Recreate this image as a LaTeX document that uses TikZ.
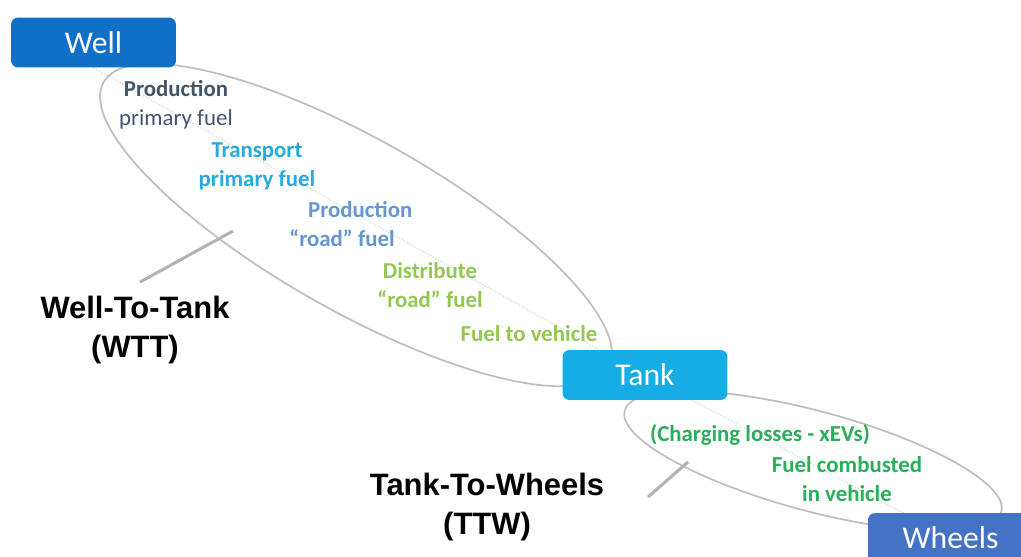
\documentclass[tikz,border=0pt]{standalone}
\usepackage{fontspec}
\setmainfont{Carlito}
\newfontfamily\labelfont{Liberation Sans}
\usetikzlibrary{positioning, calc, backgrounds}

\definecolor{wellblue}{RGB}{16,112,200}
\definecolor{tankblue}{RGB}{22,172,230}
\definecolor{wheelblue}{RGB}{68,114,196}
\definecolor{slate}{RGB}{68,84,106}
\definecolor{cyanish}{RGB}{40,170,220}
\definecolor{steel}{RGB}{100,150,208}
\definecolor{lightgreen}{RGB}{146,200,80}
\definecolor{deepgreen}{RGB}{40,175,90}

\begin{document}
\begin{tikzpicture}[x=0.02cm, y=-0.02cm,
  stage/.style={fill=#1, rounded corners=4pt, text=white,
    minimum width=3.3cm, minimum height=1cm,
    font=\fontsize{18}{20}\selectfont},
  item/.style={text=#1, align=center, inner sep=0pt,
    font=\fontsize{13}{16.5}\selectfont\bfseries},
  span/.style={align=center, inner sep=0pt,
    font=\labelfont\bfseries\fontsize{17.6}{22}\selectfont},
  outline/.style={draw=gray!50, line width=1pt},
  leader/.style={draw=gray!60, line width=1.7pt},
  trace/.style={draw=gray!30, densely dotted, line width=0.7pt}
]
  \useasboundingbox (0,0) rectangle (1021,557);
  \clip (0,0) rectangle (1021,557);

  % stages
  \node[stage=wellblue]  (well)   at (93.5,42.5) {Well};
  \node[stage=tankblue]  (tank)   at (645,375)   {Tank};
  \node[stage=wheelblue] (wheels) at (950.5,538) {Wheels};

  % trace and scope outlines go under the stages
  \coordinate (wttc) at (356,225);
  \coordinate (ttwc) at (813,461);
  \begin{scope}[on background layer]
    \draw[trace] (well.south) -- (tank.center) -- (wheels.center);
    \draw[outline, rotate around={-29.5:(wttc)}] (wttc) ellipse [x radius=290, y radius=86];
    \draw[outline, rotate around={-15:(ttwc)}] (ttwc) ellipse [x radius=195, y radius=50];
  \end{scope}

  % WTT steps
  \node[item=slate] (prodprim) at (176,105)
    {Production\\\mdseries primary fuel};
  \node[item=cyanish] (transprim) at (257,166) {Transport\\primary fuel};
  \node[item=steel] (prodroad) at (342,224)
    {\hspace*{1.6em}Production\\``road'' fuel};
  \node[item=lightgreen] (distroad) at (430,285) {Distribute\\``road'' fuel};
  \node[item=lightgreen] (tovehicle) at (529,334) {Fuel to vehicle};

  % TTW steps
  \node[item=deepgreen] (charging) at (760,435) {(Charging losses - xEVs)};
  \node[item=deepgreen] (combust) at (847,479) {Fuel combusted\\in vehicle};

  % scope labels with leaders
  \node[span] (wtt) at (135,330) {Well-To-Tank\\(WTT)};
  \node[span] (ttw) at (487,507) {Tank-To-Wheels\\(TTW)};
  \coordinate (wttfoot) at (140,282);
  \coordinate (wtthead) at (233,231);
  \coordinate (ttwfoot) at (648,497);
  \coordinate (ttwhead) at (688,462);
  \draw[leader] (wttfoot) -- (wtthead);
  \draw[leader] (ttwfoot) -- (ttwhead);
\end{tikzpicture}
\end{document}
